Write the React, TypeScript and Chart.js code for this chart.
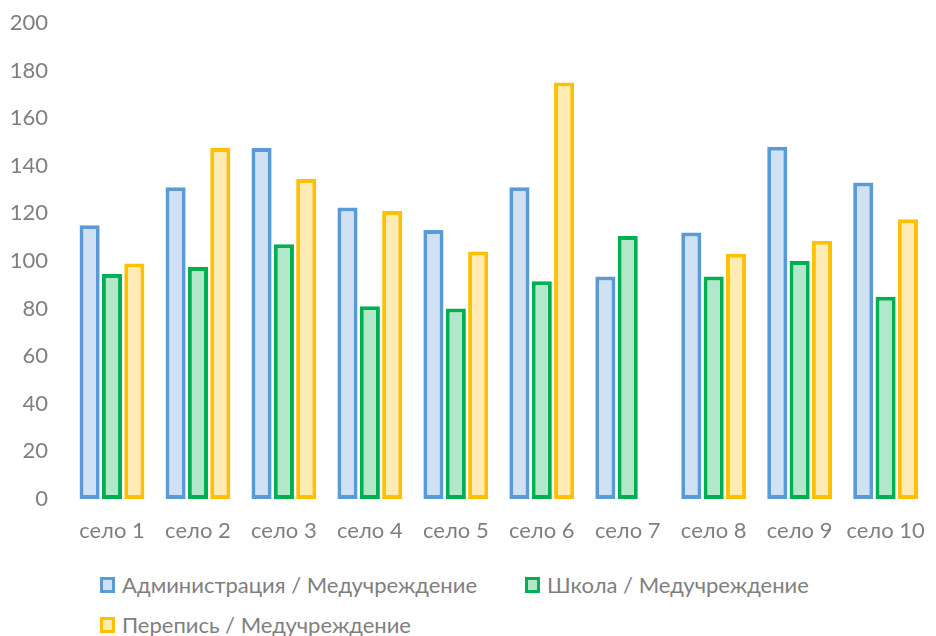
import React, { useEffect, useRef } from "react";
import { Chart, registerables } from "chart.js";

Chart.register(...registerables);

const categories = ["село 1", "село 2", "село 3", "село 4", "село 5", "село 6", "село 7", "село 8", "село 9", "село 10"];
const seriesNames = ["Администрация / Медучреждение", "Школа / Медучреждение", "Перепись / Медучреждение"];
const adminValues = [115, 131, 147.5, 122.5, 113, 131, 93.5, 112, 148, 133];
const schoolValues = [94.5, 97.5, 107, 81, 80, 91.5, 110.5, 93.5, 100, 85];
const censusValues: (number | null)[] = [99, 147.5, 134.5, 121, 104, 175, null, 103, 108.5, 117.5];
const yTicks = [0, 20, 40, 60, 80, 100, 120, 140, 160, 180, 200];

const borderColors = ["#5B9BD5", "#00B050", "#FFC000"];
const fillColors = ["#CFE1F2", "#B3E7C9", "#FFEBB3"];
const FONT = "Lato, 'Open Sans', sans-serif";
const TEXT = "#7F7F7F";

export default function App() {
  const ref = useRef<HTMLCanvasElement | null>(null);
  useEffect(() => {
    document.body.style.margin = "0";
    const values = [adminValues, schoolValues, censusValues];
    const chart = new Chart(ref.current as HTMLCanvasElement, {
      type: "bar",
      data: {
        labels: categories,
        datasets: seriesNames.map((name, i) => ({
          label: name,
          data: values[i],
          backgroundColor: fillColors[i],
          borderColor: borderColors[i],
          borderWidth: 4,
          borderSkipped: false,
          categoryPercentage: 0.78,
          barPercentage: 0.9,
        })),
      },
      options: {
        animation: false,
        responsive: true,
        maintainAspectRatio: false,
        layout: { padding: { top: 23, right: 4, left: 0, bottom: 0 } },
        plugins: { legend: { display: false }, tooltip: { enabled: false } },
        scales: {
          x: {
            grid: { display: false, drawTicks: false },
            border: { display: false },
            ticks: { color: TEXT, font: { family: FONT, size: 22 }, padding: 19, maxRotation: 0, autoSkip: false },
            afterFit: (s: any) => { s.height = 61; },
          },
          y: {
            min: 0,
            max: 200,
            grid: { display: false, drawTicks: false },
            border: { display: false },
            afterBuildTicks: (s: any) => { s.ticks = yTicks.map((v) => ({ value: v })); },
            ticks: { color: TEXT, font: { family: FONT, size: 22 }, padding: 21 },
            afterFit: (s: any) => { s.width = 69; s.paddingTop = 0; s.paddingBottom = 0; },
          },
        },
      },
    });
    return () => chart.destroy();
  }, []);

  const legendItem = (i: number) => (
    <div key={i} style={{ display: "flex", alignItems: "center" }}>
      <span
        style={{
          display: "inline-block",
          width: 9,
          height: 10,
          border: `3px solid ${borderColors[i]}`,
          background: fillColors[i],
          marginRight: 7,
        }}
      />
      <span>{seriesNames[i]}</span>
    </div>
  );

  return (
    <div style={{ position: "absolute", left: 0, top: 0, width: 936, height: 636, overflow: "hidden" }}>
      <div style={{ position: "absolute", left: 0, top: 0, width: 944, height: 560 }}>
        <canvas ref={ref} />
      </div>
      <div
        style={{
          position: "absolute",
          left: 100,
          top: 565,
          fontFamily: FONT,
          fontSize: 22,
          color: TEXT,
          lineHeight: "40px",
        }}
      >
        <div style={{ display: "flex", gap: 48 }}>
          {legendItem(0)}
          {legendItem(1)}
        </div>
        <div style={{ display: "flex" }}>{legendItem(2)}</div>
      </div>
    </div>
  );
}
